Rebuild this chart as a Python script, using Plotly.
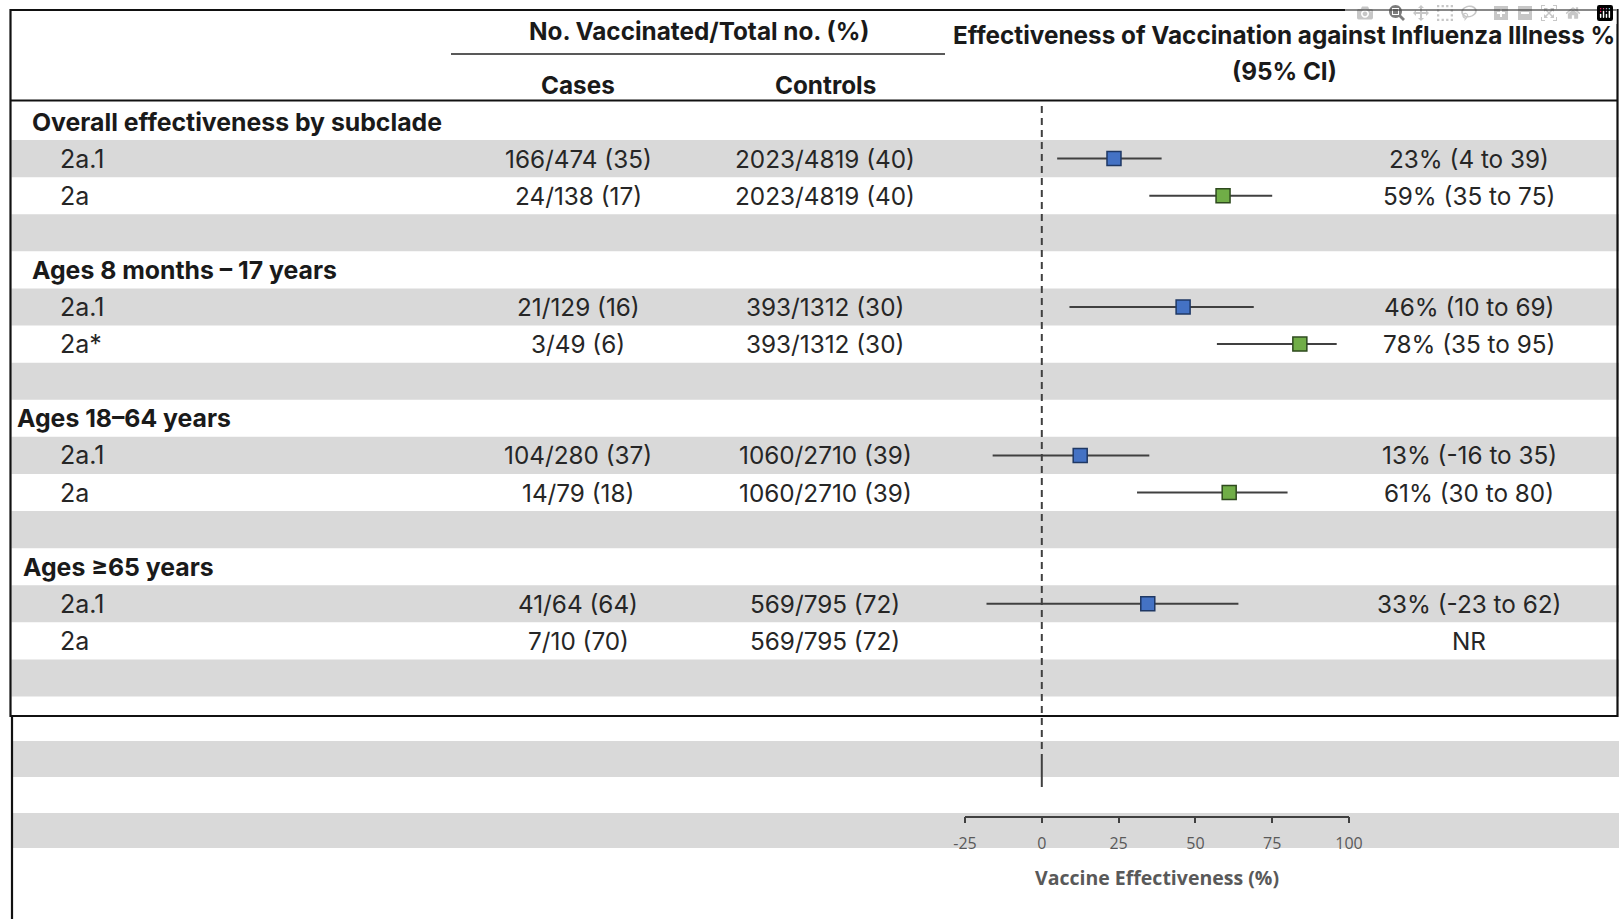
import plotly.graph_objects as go

# ---------------- data ----------------
group_labels = ["Overall effectiveness by subclade",
                "Ages 8 months \u2013 17 years",
                "Ages 18\u201364 years",
                "Ages \u226565 years"]
subclades = ["2a.1", "2a", "2a.1", "2a*", "2a.1", "2a", "2a.1", "2a"]
row_group = [0, 0, 1, 1, 2, 2, 3, 3]
cases = ["166/474 (35)", "24/138 (17)", "21/129 (16)", "3/49 (6)",
         "104/280 (37)", "14/79 (18)", "41/64 (64)", "7/10 (70)"]
controls = ["2023/4819 (40)", "2023/4819 (40)", "393/1312 (30)", "393/1312 (30)",
            "1060/2710 (39)", "1060/2710 (39)", "569/795 (72)", "569/795 (72)"]
# text column as printed
ve_text = ["23% (4 to 39)", "59% (35 to 75)", "46% (10 to 69)", "78% (35 to 95)",
           "13% (-16 to 35)", "61% (30 to 80)", "33% (-23 to 62)", "NR"]
# plotted estimates
ve_point = [23.5, 59, 46, 84, 12.5, 61, 34.5, None]
ci_low = [5, 35, 9, 57, -16, 31, -18, None]
ci_high = [39, 75, 69, 96, 35, 80, 64, None]
tick_values = [-25, 0, 25, 50, 75, 100]
tick_labels = ["-25", "0", "25", "50", "75", "100"]

# ---------------- layout constants (pixels) ----------------
W, H = 1619, 919
ROW0, PITCH = 121.5, 37.1
GROUP_INDENT = [30, 30, 15, 21]
SUB_INDENT = 58
CASES_X, CONTROLS_X, VE_TEXT_X = 578, 825, 1469
BLUE, GREEN = "#4472C4", "#70AD47"
STRIPE = "#D9D9D9"
TEXT = "#262626"
HEAD = "#1a1a1a"
FONT = "Inter"
BODY_SIZE = 24.3

def px(x):
    return x / W

def py(y):
    return 1 - y / H

n_rows = 16
row_idx = [4 * g + 1 + (i % 2) for i, g in enumerate(row_group)]

fig = go.Figure()

# CI lines
xs, ys = [], []
for lo, hi, r in zip(ci_low, ci_high, row_idx):
    if lo is None:
        continue
    xs += [lo, hi, None]
    ys += [r, r, None]
fig.add_trace(go.Scatter(x=xs, y=ys, mode="lines",
                         line=dict(color="#404040", width=2),
                         hoverinfo="skip", showlegend=False))

# markers
for colour, border, pick in [(BLUE, "#1F3864", lambda s: s == "2a.1"),
                             (GREEN, "#2E4A1E", lambda s: s != "2a.1")]:
    mx = [v for v, s in zip(ve_point, subclades) if pick(s) and v is not None]
    my = [r for v, s, r in zip(ve_point, subclades, row_idx) if pick(s) and v is not None]
    fig.add_trace(go.Scatter(x=mx, y=my, mode="markers",
                             marker=dict(symbol="square", size=14, color=colour,
                                         line=dict(color=border, width=1.5)),
                             showlegend=False))

shapes = []
for r in range(1, n_rows, 2):
    shapes.append(dict(type="rect", xref="paper", yref="y", x0=px(11.5), x1=1,
                       y0=r - 0.5, y1=r + 0.5, fillcolor=STRIPE, line_width=0,
                       layer="below"))
for y0, y1 in [(741, 777), (813, 848)]:
    shapes.append(dict(type="rect", xref="paper", yref="paper", x0=px(13), x1=1,
                       y0=py(y1), y1=py(y0), fillcolor=STRIPE, line_width=0,
                       layer="below"))
shapes.append(dict(type="rect", xref="paper", yref="paper", x0=px(10.5), x1=px(1617.5),
                   y0=py(716), y1=py(10), line=dict(color="#111111", width=2.2)))
shapes.append(dict(type="line", xref="paper", yref="paper", x0=px(12), x1=px(12),
                   y0=py(716), y1=0, line=dict(color="#111111", width=2.2)))
shapes.append(dict(type="line", xref="paper", yref="paper", x0=px(451), x1=px(945),
                   y0=py(54), y1=py(54), line=dict(color="#222222", width=1.5)))
shapes.append(dict(type="line", xref="paper", yref="paper", x0=px(10.5), x1=px(1617.5),
                   y0=py(100.5), y1=py(100.5), line=dict(color="#111111", width=2)))
shapes.append(dict(type="line", xref="x", yref="paper", x0=0, x1=0,
                   y0=py(761), y1=py(103), line=dict(color="#404040", width=2, dash="7px,5px")))
shapes.append(dict(type="line", xref="x", yref="paper", x0=0, x1=0,
                   y0=py(787), y1=py(761), line=dict(color="#404040", width=2)))

ann = []
def add_text(x, y, text, bold=False, anchor="center", size=BODY_SIZE, color=TEXT, yref="y"):
    ann.append(dict(x=px(x), y=y, xref="paper", yref=yref, text=text, showarrow=False,
                    xanchor=anchor, yanchor="middle",
                    font=dict(family=FONT, size=size, color=color,
                              weight=650 if bold else 400)))

add_text(699, py(31), "No. Vaccinated/Total no. (%)", bold=True, yref="paper", color=HEAD, size=24.3)
add_text(578, py(85), "Cases", bold=True, yref="paper", color=HEAD, size=24.3)
add_text(825, py(85), "Controls", bold=True, yref="paper", color=HEAD, size=24.3)
add_text(1284, py(35), "Effectiveness of Vaccination against Influenza Illness %", bold=True,
         yref="paper", color=HEAD, size=24.3)
add_text(1284, py(71), "(95% CI)", bold=True, yref="paper", color=HEAD, size=24.3)

for g, lab in enumerate(group_labels):
    add_text(GROUP_INDENT[g], 4 * g, lab, bold=True, anchor="left", color=HEAD, size=24.8)

for i, r in enumerate(row_idx):
    add_text(SUB_INDENT, r, subclades[i], anchor="left", size=25)
    add_text(CASES_X, r, cases[i])
    add_text(CONTROLS_X, r, controls[i])
    add_text(VE_TEXT_X, r, ve_text[i])

fig.update_layout(
    width=W, height=H, margin=dict(l=0, r=0, t=0, b=0, pad=0, autoexpand=False),
    paper_bgcolor="white", plot_bgcolor="rgba(0,0,0,0)",
    shapes=shapes, annotations=ann, showlegend=False,
    xaxis=dict(domain=[px(965), px(1349)], range=[-25, 100], anchor="free",
               position=py(816.5), showline=True, linecolor="#404040", linewidth=1.5,
               ticks="outside", ticklen=6, tickwidth=1.5, tickcolor="#404040",
               tickvals=tick_values, ticktext=tick_labels, ticklabelstandoff=7,
               tickfont=dict(family="Open Sans", size=16, color="#595959"),
               showgrid=False, zeroline=False, automargin=False,
               title=dict(text="<b>Vaccine Effectiveness (%)</b>", standoff=17,
                          font=dict(family="Open Sans", size=19.5, color="#595959"))),
    yaxis=dict(domain=[0, 1], range=[(H - ROW0) / PITCH, -ROW0 / PITCH],
               visible=False, showgrid=False, zeroline=False, automargin=False),
)

fig.write_html("out.html", post_script="document.body.style.margin='0px';")
